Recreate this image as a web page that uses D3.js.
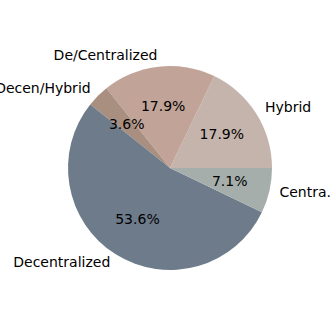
<!DOCTYPE html>
<html>
<head>
<meta charset="utf-8">
<script src="https://cdn.jsdelivr.net/npm/d3@7"></script>
<style>
  body { margin: 0; background: #fff; }
  text { font-family: "DejaVu Sans", sans-serif; fill: #000; }
</style>
</head>
<body>
<div id="chart"></div>
<script>
// counts per category, in drawing order (counterclockwise from 3 o'clock)
var labels = ["Hybrid", "De/Centralized", "Decen/Hybrid", "Decentralized", "Centra."];
var counts = [5, 5, 1, 15, 2];
var colors = ["#c5b4ac", "#c1a398", "#a98f80", "#6e7b8b", "#a6aeab"];

var width = 332, height = 332;
var cx = 170, cy = 168, radius = 102;

var svg = d3.select("#chart").append("svg")
  .attr("width", width)
  .attr("height", height);

var total = d3.sum(counts);
var data = labels.map(function(l, i) { return { label: l, value: counts[i], color: colors[i] }; });

// matplotlib style: start at east, go counterclockwise
var pie = d3.pie()
  .value(function(d) { return d.value; })
  .sort(null)
  .startAngle(Math.PI / 2)
  .endAngle(Math.PI / 2 - 2 * Math.PI);

var arc = d3.arc().innerRadius(0).outerRadius(radius);
var pctArc = d3.arc().innerRadius(radius * 0.6).outerRadius(radius * 0.6);
var lblArc = d3.arc().innerRadius(radius * 1.1).outerRadius(radius * 1.1);

var g = svg.append("g").attr("transform", "translate(" + cx + "," + cy + ")");
var arcs = pie(data);

g.selectAll("path.slice")
  .data(arcs)
  .enter().append("path")
  .attr("class", "slice")
  .attr("d", arc)
  .attr("fill", function(d) { return d.data.color; });

g.selectAll("text.pct")
  .data(arcs)
  .enter().append("text")
  .attr("class", "pct")
  .attr("transform", function(d) { return "translate(" + pctArc.centroid(d) + ")"; })
  .attr("text-anchor", "middle")
  .attr("dominant-baseline", "central")
  .attr("dy", "-0.08em")
  .style("font-size", "14px")
  .text(function(d) { return (d.data.value / total * 100).toFixed(1) + "%"; });

g.selectAll("text.lbl")
  .data(arcs)
  .enter().append("text")
  .attr("class", "lbl")
  .attr("transform", function(d) { return "translate(" + lblArc.centroid(d) + ")"; })
  .attr("text-anchor", function(d) { return lblArc.centroid(d)[0] > 0 ? "start" : "end"; })
  .attr("dominant-baseline", "central")
  .attr("dy", "-0.08em")
  .style("font-size", "14px")
  .text(function(d) { return d.data.label; });
</script>
</body>
</html>
